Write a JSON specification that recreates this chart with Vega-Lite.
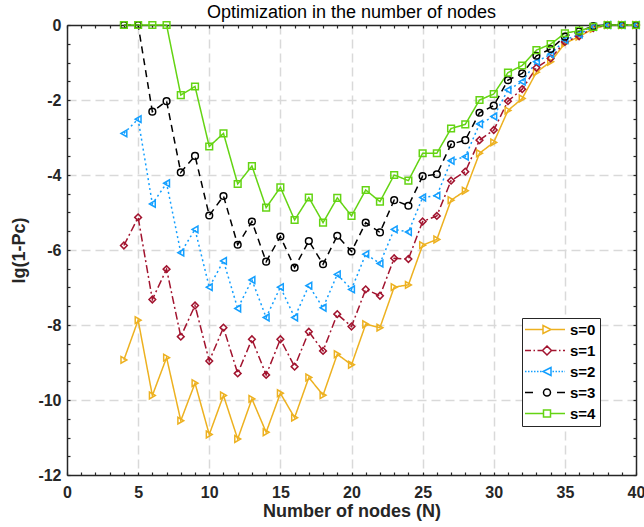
{
  "$schema": "https://vega.github.io/schema/vega-lite/v6.json",
  "width": 569,
  "height": 450,
  "autosize": {"type": "none"},
  "padding": {"left": 67, "top": 25, "right": 8, "bottom": 52},
  "title": {"text": "Optimization in the number of nodes", "fontSize": 18, "fontWeight": "normal", "font": "Liberation Sans", "color": "#000000", "offset": -5, "anchor": "middle", "frame": "group"},
  "config": {
    "view": {"stroke": null},
    "axis": {"labelFont": "Liberation Sans", "labelFontSize": 16, "labelFontWeight": "bold", "labelColor": "#262626", "titleFont": "Liberation Sans", "titleFontSize": 18, "titleFontWeight": "bold", "titleColor": "#262626", "domainColor": "#262626", "domainWidth": 1.5, "tickColor": "#262626", "tickWidth": 1.2, "tickSize": -3, "gridColor": "#d9d9d9", "gridDash": [9, 5], "gridWidth": 1.5, "labelOverlap": false, "labelFlush": false},
    "legend": {"title": null, "orient": "none", "legendX": 455, "legendY": 293, "padding": 4, "strokeColor": "#262626", "fillColor": "#ffffff",
      "labelFont": "Liberation Sans", "labelFontSize": 15, "labelFontWeight": "bold", "labelColor": "#000000", "symbolSize": 4, "labelOffset": 29, "rowPadding": 5, "symbolStrokeWidth": 1.5, "symbolFillColor": "transparent", "symbolOpacity": 1}
  },
  "data": {"values": [
    {"N":4,"s":"s=0","y":-8.93},{"N":5,"s":"s=0","y":-7.87},{"N":6,"s":"s=0","y":-9.88},{"N":7,"s":"s=0","y":-8.87},{"N":8,"s":"s=0","y":-10.55},{"N":9,"s":"s=0","y":-9.55},{"N":10,"s":"s=0","y":-10.92},{"N":11,"s":"s=0","y":-9.88},{"N":12,"s":"s=0","y":-11.04},{"N":13,"s":"s=0","y":-9.97},{"N":14,"s":"s=0","y":-10.86},{"N":15,"s":"s=0","y":-9.82},{"N":16,"s":"s=0","y":-10.47},{"N":17,"s":"s=0","y":-9.4},{"N":18,"s":"s=0","y":-9.87},{"N":19,"s":"s=0","y":-8.78},{"N":20,"s":"s=0","y":-9.06},{"N":21,"s":"s=0","y":-7.98},{"N":22,"s":"s=0","y":-8.07},{"N":23,"s":"s=0","y":-6.99},{"N":24,"s":"s=0","y":-6.93},{"N":25,"s":"s=0","y":-5.87},{"N":26,"s":"s=0","y":-5.72},{"N":27,"s":"s=0","y":-4.67},{"N":28,"s":"s=0","y":-4.42},{"N":29,"s":"s=0","y":-3.42},{"N":30,"s":"s=0","y":-3.13},{"N":31,"s":"s=0","y":-2.28},{"N":32,"s":"s=0","y":-1.96},{"N":33,"s":"s=0","y":-1.26},{"N":34,"s":"s=0","y":-0.98},{"N":35,"s":"s=0","y":-0.49},{"N":36,"s":"s=0","y":-0.31},{"N":37,"s":"s=0","y":-0.1},{"N":38,"s":"s=0","y":0},{"N":39,"s":"s=0","y":0},{"N":40,"s":"s=0","y":0},
    {"N":4,"s":"s=1","y":-5.88},{"N":5,"s":"s=1","y":-5.13},{"N":6,"s":"s=1","y":-7.32},{"N":7,"s":"s=1","y":-6.51},{"N":8,"s":"s=1","y":-8.31},{"N":9,"s":"s=1","y":-7.48},{"N":10,"s":"s=1","y":-8.96},{"N":11,"s":"s=1","y":-8.07},{"N":12,"s":"s=1","y":-9.29},{"N":13,"s":"s=1","y":-8.38},{"N":14,"s":"s=1","y":-9.33},{"N":15,"s":"s=1","y":-8.38},{"N":16,"s":"s=1","y":-9.11},{"N":17,"s":"s=1","y":-8.18},{"N":18,"s":"s=1","y":-8.69},{"N":19,"s":"s=1","y":-7.71},{"N":20,"s":"s=1","y":-8.04},{"N":21,"s":"s=1","y":-7.05},{"N":22,"s":"s=1","y":-7.22},{"N":23,"s":"s=1","y":-6.22},{"N":24,"s":"s=1","y":-6.24},{"N":25,"s":"s=1","y":-5.24},{"N":26,"s":"s=1","y":-5.09},{"N":27,"s":"s=1","y":-4.15},{"N":28,"s":"s=1","y":-3.91},{"N":29,"s":"s=1","y":-3.07},{"N":30,"s":"s=1","y":-2.8},{"N":31,"s":"s=1","y":-2.03},{"N":32,"s":"s=1","y":-1.71},{"N":33,"s":"s=1","y":-1.14},{"N":34,"s":"s=1","y":-0.89},{"N":35,"s":"s=1","y":-0.45},{"N":36,"s":"s=1","y":-0.3},{"N":37,"s":"s=1","y":-0.08},{"N":38,"s":"s=1","y":0},{"N":39,"s":"s=1","y":0},{"N":40,"s":"s=1","y":0},
    {"N":4,"s":"s=2","y":-2.89},{"N":5,"s":"s=2","y":-2.51},{"N":6,"s":"s=2","y":-4.77},{"N":7,"s":"s=2","y":-4.22},{"N":8,"s":"s=2","y":-6.07},{"N":9,"s":"s=2","y":-5.45},{"N":10,"s":"s=2","y":-6.99},{"N":11,"s":"s=2","y":-6.29},{"N":12,"s":"s=2","y":-7.56},{"N":13,"s":"s=2","y":-6.8},{"N":14,"s":"s=2","y":-7.8},{"N":15,"s":"s=2","y":-6.99},{"N":16,"s":"s=2","y":-7.8},{"N":17,"s":"s=2","y":-6.95},{"N":18,"s":"s=2","y":-7.54},{"N":19,"s":"s=2","y":-6.65},{"N":20,"s":"s=2","y":-7.05},{"N":21,"s":"s=2","y":-6.11},{"N":22,"s":"s=2","y":-6.36},{"N":23,"s":"s=2","y":-5.45},{"N":24,"s":"s=2","y":-5.52},{"N":25,"s":"s=2","y":-4.6},{"N":26,"s":"s=2","y":-4.55},{"N":27,"s":"s=2","y":-3.62},{"N":28,"s":"s=2","y":-3.51},{"N":29,"s":"s=2","y":-2.64},{"N":30,"s":"s=2","y":-2.44},{"N":31,"s":"s=2","y":-1.73},{"N":32,"s":"s=2","y":-1.51},{"N":33,"s":"s=2","y":-0.98},{"N":34,"s":"s=2","y":-0.78},{"N":35,"s":"s=2","y":-0.4},{"N":36,"s":"s=2","y":-0.25},{"N":37,"s":"s=2","y":-0.05},{"N":38,"s":"s=2","y":0},{"N":39,"s":"s=2","y":0},{"N":40,"s":"s=2","y":0},
    {"N":4,"s":"s=3","y":0},{"N":5,"s":"s=3","y":0},{"N":6,"s":"s=3","y":-2.31},{"N":7,"s":"s=3","y":-2.03},{"N":8,"s":"s=3","y":-3.93},{"N":9,"s":"s=3","y":-3.49},{"N":10,"s":"s=3","y":-5.08},{"N":11,"s":"s=3","y":-4.56},{"N":12,"s":"s=3","y":-5.86},{"N":13,"s":"s=3","y":-5.24},{"N":14,"s":"s=3","y":-6.31},{"N":15,"s":"s=3","y":-5.64},{"N":16,"s":"s=3","y":-6.47},{"N":17,"s":"s=3","y":-5.76},{"N":18,"s":"s=3","y":-6.38},{"N":19,"s":"s=3","y":-5.62},{"N":20,"s":"s=3","y":-6.04},{"N":21,"s":"s=3","y":-5.27},{"N":22,"s":"s=3","y":-5.53},{"N":23,"s":"s=3","y":-4.67},{"N":24,"s":"s=3","y":-4.82},{"N":25,"s":"s=3","y":-4.03},{"N":26,"s":"s=3","y":-3.98},{"N":27,"s":"s=3","y":-3.18},{"N":28,"s":"s=3","y":-3.07},{"N":29,"s":"s=3","y":-2.34},{"N":30,"s":"s=3","y":-2.15},{"N":31,"s":"s=3","y":-1.47},{"N":32,"s":"s=3","y":-1.29},{"N":33,"s":"s=3","y":-0.82},{"N":34,"s":"s=3","y":-0.64},{"N":35,"s":"s=3","y":-0.31},{"N":36,"s":"s=3","y":-0.17},{"N":37,"s":"s=3","y":-0.03},{"N":38,"s":"s=3","y":0},{"N":39,"s":"s=3","y":0},{"N":40,"s":"s=3","y":0},
    {"N":4,"s":"s=4","y":0},{"N":5,"s":"s=4","y":0},{"N":6,"s":"s=4","y":0},{"N":7,"s":"s=4","y":0},{"N":8,"s":"s=4","y":-1.87},{"N":9,"s":"s=4","y":-1.64},{"N":10,"s":"s=4","y":-3.24},{"N":11,"s":"s=4","y":-2.89},{"N":12,"s":"s=4","y":-4.24},{"N":13,"s":"s=4","y":-3.76},{"N":14,"s":"s=4","y":-4.87},{"N":15,"s":"s=4","y":-4.33},{"N":16,"s":"s=4","y":-5.2},{"N":17,"s":"s=4","y":-4.6},{"N":18,"s":"s=4","y":-5.27},{"N":19,"s":"s=4","y":-4.61},{"N":20,"s":"s=4","y":-5.09},{"N":21,"s":"s=4","y":-4.4},{"N":22,"s":"s=4","y":-4.71},{"N":23,"s":"s=4","y":-4.0},{"N":24,"s":"s=4","y":-4.15},{"N":25,"s":"s=4","y":-3.42},{"N":26,"s":"s=4","y":-3.42},{"N":27,"s":"s=4","y":-2.76},{"N":28,"s":"s=4","y":-2.65},{"N":29,"s":"s=4","y":-2.0},{"N":30,"s":"s=4","y":-1.84},{"N":31,"s":"s=4","y":-1.27},{"N":32,"s":"s=4","y":-1.08},{"N":33,"s":"s=4","y":-0.67},{"N":34,"s":"s=4","y":-0.51},{"N":35,"s":"s=4","y":-0.22},{"N":36,"s":"s=4","y":-0.15},{"N":37,"s":"s=4","y":-0.05},{"N":38,"s":"s=4","y":0},{"N":39,"s":"s=4","y":0},{"N":40,"s":"s=4","y":0}
  ]},
  "resolve": {"axis": {"x": "independent", "y": "independent"}, "scale": {"shape": "independent"}},
  "layer": [
    {
      "mark": {"type": "line", "strokeWidth": 1.5},
      "encoding": {
        "x": {"field": "N", "type": "quantitative", "scale": {"domain": [0, 40], "nice": false},
          "axis": {"orient": "bottom", "title": "Number of nodes (N)", "values": [0,1,2,3,4,5,6,7,8,9,10,11,12,13,14,15,16,17,18,19,20,21,22,23,24,25,26,27,28,29,30,31,32,33,34,35,36,37,38,39,40],
            "labelExpr": "datum.value % 5 === 0 ? '' + datum.value : ''", "labelPadding": 12, "titlePadding": 2,
            "grid": true, "gridOpacity": {"condition": {"test": "datum.value % 5 === 0 && datum.value > 0 && datum.value < 40", "value": 1}, "value": 0}}},
        "y": {"field": "y", "type": "quantitative", "scale": {"domain": [-12, 0], "nice": false},
          "axis": {"orient": "left", "title": "lg(1-Pc)", "values": [-12,-11.5,-11,-10.5,-10,-9.5,-9,-8.5,-8,-7.5,-7,-6.5,-6,-5.5,-5,-4.5,-4,-3.5,-3,-2.5,-2,-1.5,-1,-0.5,0],
            "labelExpr": "datum.value % 2 === 0 ? '' + datum.value : ''", "labelPadding": 9, "titlePadding": 9,
            "grid": true, "gridOpacity": {"condition": {"test": "datum.value % 2 === 0 && datum.value > -12 && datum.value < 0", "value": 1}, "value": 0}}},
        "color": {"field": "s", "type": "nominal", "scale": {"domain": ["s=0","s=1","s=2","s=3","s=4"], "range": ["#EDB120","#A2142F","#139FFF","#000000","#64D413"]}, "legend": null},
        "strokeDash": {"field": "s", "type": "nominal", "scale": {"domain": ["s=0","s=1","s=2","s=3","s=4"], "range": [[1,0],[8,3,2,3],[2,3],[7,5],[1,0]]}, "legend": null}
      }
    },
    {
      "mark": {"type": "point", "filled": false, "strokeWidth": 1.5, "size": 45, "opacity": 1},
      "encoding": {
        "x": {"field": "N", "type": "quantitative", "axis": {"orient": "top", "title": null, "labels": false, "grid": false, "values": [0,1,2,3,4,5,6,7,8,9,10,11,12,13,14,15,16,17,18,19,20,21,22,23,24,25,26,27,28,29,30,31,32,33,34,35,36,37,38,39,40]}},
        "y": {"field": "y", "type": "quantitative", "axis": {"orient": "right", "title": null, "labels": false, "grid": false, "values": [-12,-11.5,-11,-10.5,-10,-9.5,-9,-8.5,-8,-7.5,-7,-6.5,-6,-5.5,-5,-4.5,-4,-3.5,-3,-2.5,-2,-1.5,-1,-0.5,0]}},
        "color": {"field": "s", "type": "nominal", "legend": null},
        "shape": {"field": "s", "type": "nominal", "scale": {"domain": ["s=0","s=1","s=2","s=3","s=4"], "range": ["triangle-right","diamond","triangle-left","circle","square"]}, "legend": null}
      }
    },
    {
      "mark": {"type": "point", "filled": false, "opacity": 0, "size": 1, "strokeWidth": 1.5,
        "color": {"expr": "datum.value === 's=0' ? '#EDB120' : datum.value === 's=1' ? '#A2142F' : datum.value === 's=2' ? '#139FFF' : datum.value === 's=3' ? '#000000' : '#64D413'"},
        "stroke": {"expr": "datum.value === 's=0' ? '#EDB120' : datum.value === 's=1' ? '#A2142F' : datum.value === 's=2' ? '#139FFF' : datum.value === 's=3' ? '#000000' : '#64D413'"}},
      "encoding": {
        "x": {"field": "N", "type": "quantitative", "axis": null},
        "y": {"field": "y", "type": "quantitative", "axis": null},
        "shape": {"field": "s", "type": "nominal",
          "scale": {"domain": ["s=0","s=1","s=2","s=3","s=4"], "range": [
            "M-8.5,0L9.5,0M17.5,0L31.5,0M9.5,-4L17.5,0L9.5,4Z",
            "M-8.5,0L-2.5,0M0,0L1.5,0M4,0L9,0M18,0L23,0M25.5,0L27,0M29.5,0L31.5,0M13.5,-4.5L18,0L13.5,4.5L9,0Z",
            "M-8.5,0h1.5M-5.5,0h1.5M-2.5,0h1.5M0.5,0h1.5M3.5,0h1.5M6.5,0h1.5M19,0h1.5M22,0h1.5M25,0h1.5M28,0h1.5M31,0h0.5M17.5,-4L9.5,0L17.5,4Z",
            "M-8.5,0L-0.5,0M23.5,0L31.5,0M17,0A3.5,3.5 0 1,1 10,0A3.5,3.5 0 1,1 17,0Z",
            "M-8.5,0L10,0M17,0L31.5,0M10,-3.5h7v7h-7Z"
          ]},
          "legend": {"symbolOpacity": 1}
        }
      }
    }
  ]
}
